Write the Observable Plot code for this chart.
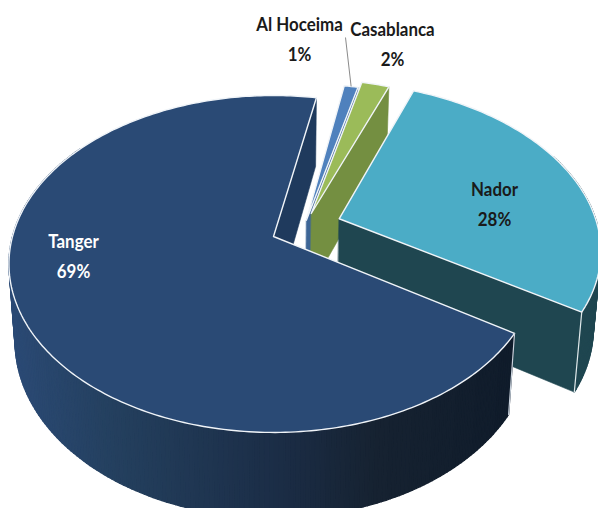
<!DOCTYPE html>
<html>
<head>
<meta charset="utf-8">
<style>html,body{margin:0;padding:0;background:#fff}svg{display:block}</style>
<script src="https://cdn.jsdelivr.net/npm/d3@7"></script>
<script src="https://cdn.jsdelivr.net/npm/@observablehq/plot@0.6"></script>
</head>
<body>
<div id="chart"></div>
<script>
// Data
const cities = ["Al Hoceima", "Casablanca", "Nador", "Tanger"];
const shares = [1, 2, 28, 69];

// Style and layout
const topColors = ["#4f81bd", "#9bbb59", "#4bacc6", "#2a4a75"];
const wallColors = ["#3d6596", "#748f41", "#1f4650", "#1f3a5d"];
const labelColors = ["#1a1a1a", "#1a1a1a", "#1a1a1a", "#ffffff"];
const labelX = [299, 392, 494, 73];
const labelY = [36, 41, 201, 253];
const explodeX = [0.128, 0.148, 0.256, 0];
const explodeY = [-0.10, -0.1435, -0.11, 0];
const rimShades = ["#2b4a75", "#24405f", "#1b2d46", "#162231", "#101c2b"];
const width = 598, height = 508;
const rotation = 11 * Math.PI / 180;

// Perspective view of the tilted disc
function project(X, Y, Z) {
  const w = 1 - 0.163 * Y + 0.023 * Z;
  return {x: 273 + 261 * X / w, y: 236 + (164 * Y + 78 * Z) / w};
}
const arcs = d3.pie().sort(null).startAngle(rotation).endAngle(rotation + 2 * Math.PI)(shares);
const at = (i, a, Z, r = 1) => project(explodeX[i] + r * Math.sin(a), explodeY[i] - r * Math.cos(a), Z);
const sweep = (a0, a1) => {
  const n = Math.max(2, Math.ceil(Math.abs(a1 - a0) * 60));
  return d3.range(n + 1).map(k => a0 + (a1 - a0) * k / n);
};
const poly = (points, fill, stroke = fill, strokeWidth = 0.6) =>
  Plot.line(points, {x: "x", y: "y", fill, stroke, strokeWidth, curve: "linear-closed", strokeLinejoin: "round"});
const edge = (points, stroke, strokeWidth) =>
  Plot.line(points, {x: "x", y: "y", stroke, strokeWidth, strokeLinecap: "round"});

const shade = d3.scaleLinear().domain([8, 110, 280, 380, 510]).range(rimShades).clamp(true);
const marks = [];

arcs.forEach((arc, i) => {
  const {startAngle: a0, endAngle: a1} = arc;
  const isTanger = cities[i] === "Tanger";

  // Radial wall facing the viewer (always the clockwise end of the slice)
  marks.push(poly([at(i, 0, 0, 0), at(i, a1, 0), at(i, a1, 1), at(i, 0, 1, 0)], wallColors[i]));

  // Outer rim
  if (cities[i] === "Nador" || isTanger) {
    const from = isTanger ? a0 : Math.max(a0, a1 - 1);
    const to = isTanger ? Math.min(a1, a0 + 3.2) : a1;
    d3.pairs(sweep(from, to)).forEach(([u, v]) => {
      const pts = [at(i, u, 0), at(i, v, 0), at(i, v, 1), at(i, u, 1)];
      const fill = isTanger ? shade(pts[0].x) : wallColors[i];
      marks.push(poly(pts, fill, fill, 1.3));
    });
  }

  // Top surface
  const top = [at(i, 0, 0, 0), ...sweep(a0, a1).map(a => at(i, a, 0))];
  marks.push(poly(top, topColors[i], "#f0f4f8", 1.4));

  // Vertical corner where the rim meets the radial wall
  if (cities[i] === "Nador") marks.push(edge([at(i, a1, 0), at(i, a1, 1)], "#dfe8ea", 1.2));
  if (isTanger) marks.push(edge([at(i, a0, 0), at(i, a0, 1)], "#c9d2dc", 1.2));
});

// Leader line for the smallest slice
const leadAngle = (arcs[0].startAngle + arcs[0].endAngle) / 2;
const leadEnd = at(0, leadAngle, 0);
marks.push(Plot.link([{x1: labelX[0] + 46, y1: labelY[0] + 1, x2: leadEnd.x, y2: leadEnd.y}], {
  x1: "x1", y1: "y1", x2: "x2", y2: "y2", stroke: "#8a8a8a", strokeWidth: 1
}));

// Labels
const labels = cities.map((c, i) => ({text: `${c}\n${shares[i]}%`, x: labelX[i], y: labelY[i], color: labelColors[i]}));
labels.forEach(l => marks.push(Plot.text([l], {
  x: "x", y: "y", text: "text", fill: l.color, fontSize: 19, fontWeight: 700,
  fontFamily: "Lato, 'Liberation Sans', sans-serif",
  lineHeight: 1.58, textAnchor: "middle"
})));

const chart = Plot.plot({
  width, height,
  marginTop: 0, marginRight: 0, marginBottom: 0, marginLeft: 0,
  x: {domain: [0, width], axis: null},
  y: {domain: [height, 0], axis: null},
  clip: "frame",
  marks
});
// The reference's label type is condensed
d3.select(chart).selectAll("text").filter(function() { return /translate/.test(this.getAttribute("transform") || ""); })
  .attr("transform", function() { return this.getAttribute("transform") + " scale(0.89,1)"; });
document.getElementById("chart").append(chart);
</script>
</body>
</html>
